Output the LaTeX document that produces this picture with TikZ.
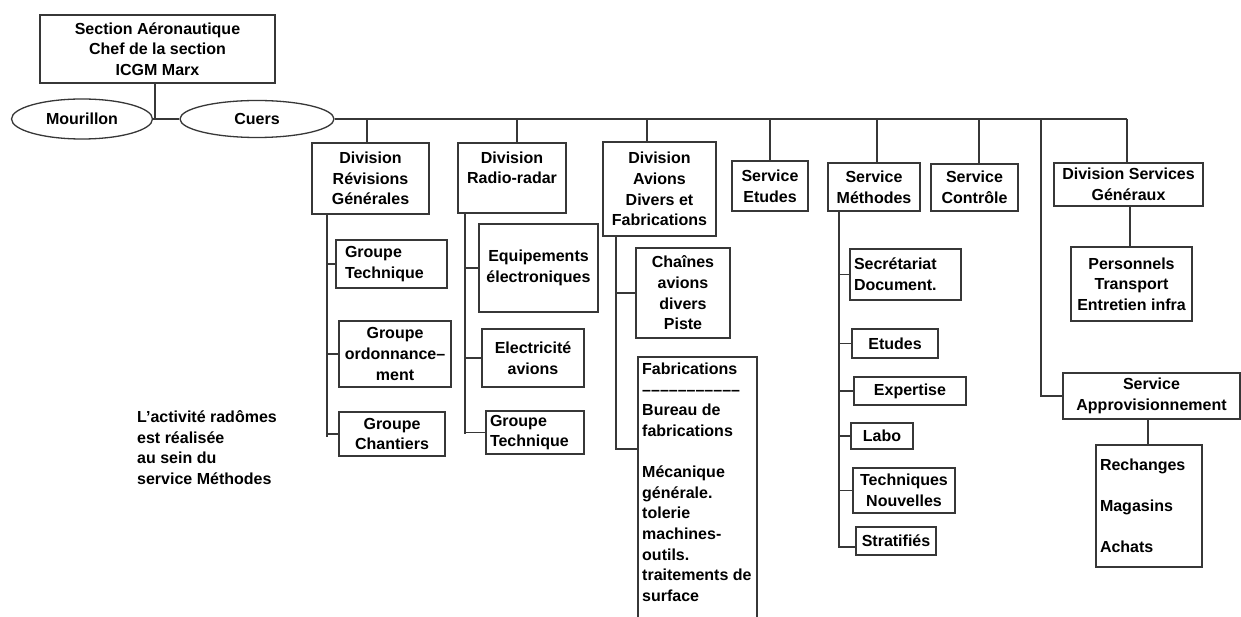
\documentclass[tikz,border=0pt]{standalone}
\usepackage{fontspec}
\setmainfont{Liberation Sans}
\usetikzlibrary{shapes.geometric}
\definecolor{LineGray}{RGB}{55,55,55}
\newcommand{\tirets}{\foreach \i in {1,...,11}{--}}

\begin{document}
\begin{tikzpicture}[x=1pt, y=-1pt,
    box/.style={draw=LineGray, line width=1.3pt, fill=white, inner sep=0pt,
      align=center, font=\bfseries\fontsize{16}{20.6}\selectfont},
    lbox/.style={box, align=left},
    oval/.style={box, ellipse},
    link/.style={draw=LineGray, line width=1.3pt}]
  \path[use as bounding box, fill=white] (0,0) rectangle (1241,617);

  % direction
  \node[box, minimum width=235, minimum height=68] (top) at (157.5,49) {Section Aéronautique\\Chef de la section\\ICGM Marx};
  \node[oval, minimum width=141, minimum height=40] (mour) at (82,119) {Mourillon};
  \node[oval, minimum width=154, minimum height=37] (cuers) at (257,119) {Cuers};
  \coordinate (jtop) at (155,119);
  \draw[link] (top.south -| jtop) -- (jtop);
  \draw[link] (mour) -- (cuers);
  \coordinate (bend) at (1127,119);
  \draw[link] (cuers.east) -- (bend);

  % divisions et services
  \node[box, minimum width=117, minimum height=71] (divrg) at (370.5,178.5) {Division\\Révisions\\Générales};
  \node[box, minimum width=108, minimum height=70] (divrr) at (512,178) {Division\\Radio-radar\\~};
  \node[box, minimum width=113, minimum height=94] (divav) at (659.5,189) {Division\\Avions\\Divers et\\Fabrications};
  \node[box, minimum width=76, minimum height=50] (setud) at (770,186) {Service\\Etudes};
  \node[box, minimum width=92, minimum height=48] (smeth) at (874,187) {Service\\Méthodes};
  \node[box, minimum width=87, minimum height=47] (sctrl) at (974.5,187.5) {Service\\Contrôle};
  \node[box, minimum width=149, minimum height=43] (dsg) at (1128.5,184.5) {Division Services\\Généraux};
  \node[box, minimum width=177, minimum height=46] (sappro) at (1151.5,396) {Service\\Approvisionnement};
  \foreach \n/\x in {divrg/367, divrr/517, divav/647, setud/770, smeth/877, sctrl/979} {
    \coordinate (t\n) at (\x,119);
    \draw[link] (t\n) -- (t\n |- \n.north);
  }
  \draw[link] (bend) -- (bend |- dsg.north);
  \coordinate (tappro) at (1041,119);
  \draw[link] (tappro) -- (tappro |- sappro.west) -- (sappro.west);

  % Revisions generales
  \node[lbox, text width=93, minimum width=111, minimum height=48] (gt1) at (391.5,264) {Groupe\\Technique};
  \node[box, minimum width=112, minimum height=66] (gord) at (395,354) {Groupe\\ordonnance--\\ment};
  \node[box, minimum width=106, minimum height=44] (gch) at (392,434) {Groupe\\Chantiers};
  \coordinate (rgspine) at (327,437);
  \draw[link] (rgspine |- divrg.south) -- (rgspine);
  \foreach \n in {gt1, gord, gch}
    \draw[link] (rgspine |- \n.west) -- (\n.west);

  % Radio-radar
  \node[box, minimum width=119, minimum height=88] (equip) at (538.5,268) {Equipements\\électroniques};
  \node[box, minimum width=102, minimum height=58] (elec) at (533,358) {Electricité\\avions};
  \node[lbox, text width=90, minimum width=98, minimum height=43] (gt2) at (535,432.5) {Groupe\\Technique};
  \coordinate (rrspine) at (465,434);
  \draw[link] (rrspine |- divrr.south) -- (rrspine);
  \foreach \n in {equip, elec, gt2}
    \draw[link] (rrspine |- \n.west) -- (\n.west);

  % Avions divers
  \node[box, minimum width=94, minimum height=90] (chain) at (683,293) {Chaînes\\avions\\divers\\Piste};
  \node[box, minimum width=119, minimum height=273] (fab) at (697.5,493.5) {};
  \node[anchor=north west, align=left, inner sep=0pt, font=\bfseries\fontsize{16}{20.6}\selectfont] (fabtxt) at (642,363)
    {Fabrications\\\tirets\\Bureau de\\fabrications\\~\\Mécanique\\générale.\\tolerie\\machines-\\outils.\\traitements de\\surface};
  \coordinate (avspine) at (616,449);
  \draw[link] (avspine |- divav.south) -- (avspine) -- (fab.west |- avspine);
  \draw[link] (avspine |- chain.west) -- (chain.west);

  % Methodes
  \node[lbox, text width=103, minimum width=111, minimum height=51] (secr) at (905.5,274.5) {Secrétariat\\Document.};
  \node[box, minimum width=86, minimum height=29] (etud) at (895,343.5) {Etudes};
  \node[box, minimum width=112, minimum height=28] (expert) at (910,391) {Expertise};
  \node[box, minimum width=62, minimum height=26] (labo) at (882,436) {Labo};
  \node[box, minimum width=102, minimum height=45] (techn) at (904,490.5) {Techniques\\Nouvelles};
  \node[box, minimum width=80, minimum height=28] (strat) at (896,541) {Stratifiés};
  \coordinate (mtspine) at (839,547);
  \draw[link] (mtspine |- smeth.south) -- (mtspine) -- (strat.west |- mtspine);
  \foreach \n in {secr, etud, expert, labo, techn}
    \draw[link] (mtspine |- \n.west) -- (\n.west);

  % services generaux, approvisionnement
  \node[box, minimum width=121, minimum height=74] (pers) at (1131.5,284) {Personnels\\Transport\\Entretien infra};
  \node[lbox, text width=98, minimum width=106, minimum height=122] (rech) at (1149,506) {Rechanges\\~\\Magasins\\~\\Achats};
  \draw[link] (pers.north -| 1130,0) -- (dsg.south -| 1130,0);
  \draw[link] (rech.north -| 1148,0) -- (sappro.south -| 1148,0);

  \node[anchor=west, align=left, inner sep=0pt, font=\bfseries\fontsize{16}{20.6}\selectfont] (note) at (137,447.5)
    {L'activité radômes\\est réalisée\\au sein du\\service Méthodes};
\end{tikzpicture}
\end{document}
